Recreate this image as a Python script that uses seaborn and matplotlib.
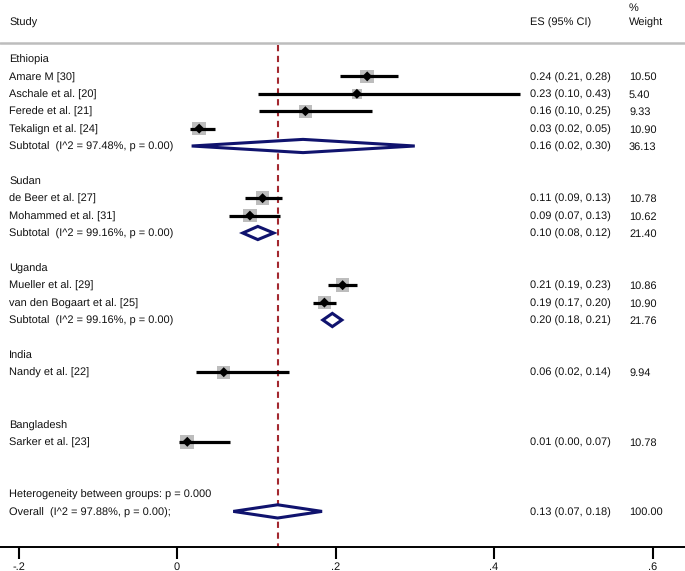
import matplotlib
matplotlib.use("Agg")
import matplotlib.pyplot as plt
import matplotlib.transforms as mtrans
from matplotlib.patches import Polygon
import seaborn as sns
import pandas as pd

# ---------------- data ----------------
group_names = ["Ethiopia", "Sudan", "Uganda", "India", "Bangladesh"]
group_rows = [0, 7, 12, 17, 21]

studies = ["Amare M [30]", "Aschale et al. [20]", "Ferede et al. [21]", "Tekalign et al. [24]",
           "de Beer et al. [27]", "Mohammed et al. [31]",
           "Mueller et al. [29]", "van den Bogaart et al. [25]",
           "Nandy et al. [22]", "Sarker et al. [23]"]
study_rows = [1, 2, 3, 4, 8, 9, 13, 14, 18, 22]
study_es = [0.240, 0.227, 0.162, 0.028, 0.108, 0.092, 0.209, 0.186, 0.059, 0.013]
study_lo = [0.206, 0.102, 0.103, 0.017, 0.086, 0.066, 0.191, 0.172, 0.024, 0.003]
study_hi = [0.279, 0.433, 0.246, 0.048, 0.133, 0.130, 0.227, 0.201, 0.141, 0.067]
study_weight = [10.50, 5.40, 9.33, 10.90, 10.78, 10.62, 10.86, 10.90, 9.94, 10.78]
study_ci_text = ["0.24 (0.21, 0.28)", "0.23 (0.10, 0.43)", "0.16 (0.10, 0.25)", "0.03 (0.02, 0.05)",
                 "0.11 (0.09, 0.13)", "0.09 (0.07, 0.13)",
                 "0.21 (0.19, 0.23)", "0.19 (0.17, 0.20)",
                 "0.06 (0.02, 0.14)", "0.01 (0.00, 0.07)"]
study_weight_text = ["10.50", "5.40", "9.33", "10.90", "10.78", "10.62", "10.86", "10.90", "9.94", "10.78"]

pooled_labels = ["Subtotal  (I^2 = 97.48%, p = 0.00)", "Subtotal  (I^2 = 99.16%, p = 0.00)",
                 "Subtotal  (I^2 = 99.16%, p = 0.00)", "Overall  (I^2 = 97.88%, p = 0.00);"]
pooled_rows = [5, 10, 15, 26]
pooled_es = [0.159, 0.102, 0.196, 0.127]
pooled_lo = [0.0185, 0.083, 0.184, 0.071]
pooled_hi = [0.300, 0.122, 0.208, 0.183]
pooled_ci_text = ["0.16 (0.02, 0.30)", "0.10 (0.08, 0.12)", "0.20 (0.18, 0.21)", "0.13 (0.07, 0.18)"]
pooled_weight_text = ["36.13", "21.40", "21.76", "100.00"]

het_text = "Heterogeneity between groups: p = 0.000"
het_row = 25

overall_es = 0.127
tick_values = [-0.2, 0, 0.2, 0.4, 0.6]
tick_labels = ["-.2", "0", ".2", ".4", ".6"]

# ---------------- style ----------------
sns.set_theme(style="white")
plt.rcParams["font.family"] = ["Liberation Sans", "DejaVu Sans"]
plt.rcParams["text.hinting"] = "no_hinting"
plt.rcParams["text.hinting_factor"] = 1
FS = 7.6
TXT = "#111111"
NAVY = "#10136e"
RED = "#a3282f"

W, H = 685, 571
fig = plt.figure(figsize=(W / 100, H / 100), dpi=100)
ax = fig.add_axes([0, 24 / H, 1, 547 / H])

x0px, scale = 177.0, 792.5
ax.set_xlim(-x0px / scale, (W - x0px) / scale)
row0px, rowh = 59.0, 17.4
ax.set_ylim((547 - row0px) / rowh, -row0px / rowh)

tr = mtrans.blended_transform_factory(ax.transAxes, ax.transData)
def px(x):
    return x / W

def put(x, y, s):
    ax.text(px(x), y, s, transform=tr, fontsize=FS, va="center_baseline", ha="left", color=TXT)

# header
put(9, (22 - row0px) / rowh, "Study")
put(530, (22 - row0px) / rowh, "ES (95% CI)")
put(629, (22 - row0px) / rowh, "Weight")
put(629, (7 - row0px) / rowh, "%")
ax.plot([0, 1], [(43 - row0px) / rowh] * 2, transform=tr, color="#bdbdbd", lw=1.8, clip_on=False)

# reference line
ax.vlines(overall_es, (45 - row0px) / rowh, (547 - row0px) / rowh, colors=RED,
          linestyles=(0, (3, 2.2)), lw=1.5, zorder=1)

# group labels
for name, r in zip(group_names, group_rows):
    put(9, r, name)

# studies
df = pd.DataFrame({"es": study_es, "lo": study_lo, "hi": study_hi, "row": study_rows,
                   "w": study_weight})
k = 9.0
sns.scatterplot(data=df, x="es", y="row", size="w", sizes=(k * min(study_weight), k * max(study_weight)),
                size_norm=(min(study_weight), max(study_weight)),
                marker="s", color="#bdbdbd", edgecolor="none", legend=False, ax=ax, zorder=2)
ax.hlines(df["row"], df["lo"], df["hi"], colors="black", lw=2.3, zorder=3)
sns.scatterplot(data=df, x="es", y="row", marker="D", s=26, color="black", edgecolor="none",
                legend=False, ax=ax, zorder=4)
for lab, r, ci, wt in zip(studies, study_rows, study_ci_text, study_weight_text):
    put(9, r, lab)
    put(530, r, ci)
    put(629, r, wt)

# pooled diamonds
dh = 0.38
for lab, r, es, lo, hi, ci, wt in zip(pooled_labels, pooled_rows, pooled_es, pooled_lo, pooled_hi,
                                      pooled_ci_text, pooled_weight_text):
    poly = Polygon([(lo, r), (es, r - dh), (hi, r), (es, r + dh)], closed=True,
                   facecolor="white", edgecolor=NAVY, lw=2.2, zorder=5, joinstyle="miter")
    ax.add_patch(poly)
    put(9, r, lab)
    put(530, r, ci)
    put(629, r, wt)

put(9, het_row, het_text)

# axis
for s in ["top", "left", "right"]:
    ax.spines[s].set_visible(False)
ax.spines["bottom"].set_color("black")
ax.spines["bottom"].set_linewidth(1.4)
ax.set_xticks(tick_values)
ax.set_xticklabels(tick_labels)
ax.tick_params(axis="x", bottom=True, direction="out", length=8.5, width=1.5, color="black",
               labelsize=FS, pad=2, labelcolor=TXT)
ax.set_yticks([])
ax.set_xlabel("")
ax.set_ylabel("")

fig.savefig("out.png", dpi=100)
